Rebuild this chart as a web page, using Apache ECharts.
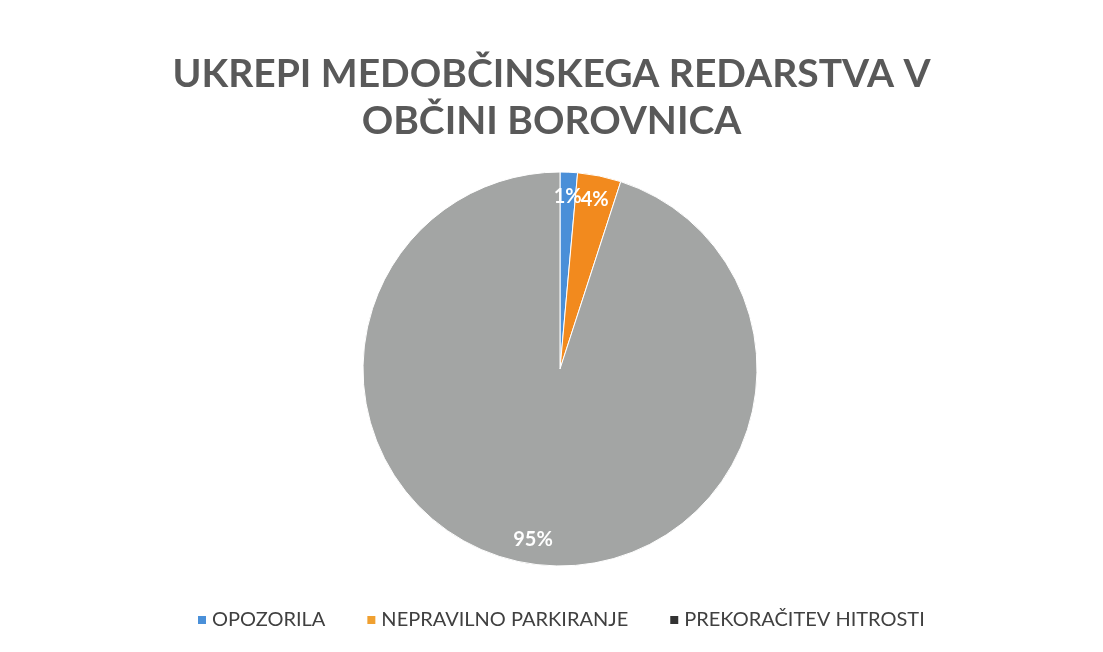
<!DOCTYPE html>
<head>
    <meta charset="utf-8" />
    <title>Ukrepi</title>
    <style>
        body { margin: 0; background: #fff; }
    </style>
</head>
<body>
<div style="width: 1103px; height: 652px;" id="container"></div>

<script src="https://cdn.jsdelivr.net/npm/echarts@6/dist/echarts.min.js"></script>
<script type="text/javascript">

    var categories = ['OPOZORILA', 'NEPRAVILNO PARKIRANJE', 'PREKORAČITEV HITROSTI'];
    var values = [12, 30, 800];
    var sliceColors = ['#4a8fd8', '#f28a1e', '#a3a5a4'];
    var legendColors = ['#4a90d9', '#f0a030', '#333333'];

    var chart = echarts.init(document.getElementById('container'));

    var pieData = [];
    var legendData = [];
    for (var i = 0; i < categories.length; i++) {
        pieData.push({ name: categories[i], value: values[i], itemStyle: { color: sliceColors[i] } });
        legendData.push({ name: categories[i], itemStyle: { color: legendColors[i] } });
    }

    chart.setOption({
        animation: false,
        title: {
            text: 'UKREPI MEDOBČINSKEGA REDARSTVA V\nOBČINI BOROVNICA',
            left: 'center',
            top: 46,
            textStyle: {
                fontFamily: 'Lato',
                fontWeight: 'bold',
                fontSize: 39,
                lineHeight: 47,
                color: '#595959'
            }
        },
        legend: {
            data: legendData,
            bottom: 17,
            left: 191,
            itemWidth: 10,
            itemHeight: 10,
            itemGap: 40,
            icon: 'rect',
            textStyle: { fontFamily: 'Lato', fontSize: 20, color: '#404040' }
        },
        series: [{
            type: 'pie',
            center: [560, 369],
            radius: [0, 197],
            startAngle: 90,
            clockwise: true,
            label: { show: false },
            labelLine: { show: false },
            itemStyle: { borderColor: '#fff', borderWidth: 1 },
            data: pieData
        }, {
            // label ring only
            type: 'pie',
            center: [560, 369],
            radius: [143, 197],
            startAngle: 90,
            clockwise: true,
            silent: true,
            avoidLabelOverlap: false,
            minShowLabelAngle: 0,
            labelLayout: { hideOverlap: false },
            itemStyle: { color: 'rgba(0,0,0,0)' },
            label: {
                show: true,
                position: 'inside',
                formatter: function (p) { return Math.round(p.percent) + '%'; },
                fontFamily: 'Lato',
                fontWeight: 'bold',
                fontSize: 20,
                color: '#fff'
            },
            labelLine: { show: false },
            data: values.map(function (v, i) { return { name: categories[i], value: v }; })
        }]
    });

</script>
</body>
